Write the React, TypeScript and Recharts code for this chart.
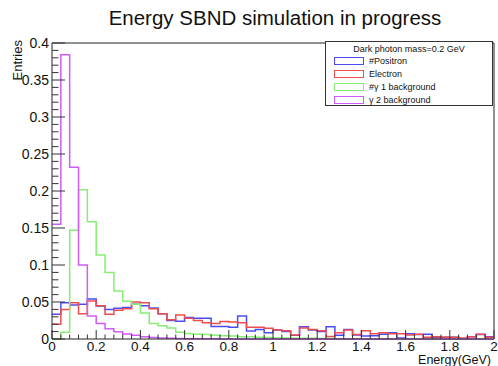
import { ComposedChart, Line, XAxis, YAxis, ReferenceLine, Legend } from 'recharts';

// 50 bins of 0.04 GeV between 0 and 2 GeV, normalised entries per bin
const binWidth = 0.04;

const positron = [
  0.0335, 0.049, 0.046, 0.047, 0.054, 0.0447, 0.04, 0.0416, 0.0425, 0.047,
  0.045, 0.042, 0.034, 0.025, 0.024, 0.029, 0.028, 0.028, 0.017, 0.017,
  0.016, 0.031, 0.0108, 0.013, 0.0086, 0.012, 0.01, 0.005, 0.0165, 0.012,
  0.01, 0.0165, 0.005, 0.013, 0.0054, 0.004, 0.0045, 0.0063, 0.0086, 0.0015,
  0.0072, 0.006, 0.0063, 0.0025, 0.0025, 0.0025, 0.0005, 0.003, 0.006, 0.003,
];

const electron = [
  0.02, 0.04, 0.049, 0.034, 0.0515, 0.045, 0.0335, 0.039, 0.041, 0.05,
  0.049, 0.041, 0.034, 0.026, 0.0325, 0.028, 0.025, 0.022, 0.021, 0.0235,
  0.023, 0.022, 0.016, 0.016, 0.0145, 0.012, 0.011, 0.0055, 0.015, 0.013,
  0.011, 0.0035, 0.0086, 0.012, 0.006, 0.011, 0.0072, 0.0086, 0.0072, 0.0072,
  0.0055, 0.0063, 0.0025, 0.003, 0.0025, 0.0025, 0.0015, 0.003, 0.0063, 0.0025,
];

const gamma1 = [
  0, 0.009, 0.147, 0.2016, 0.1586, 0.1134, 0.09, 0.065, 0.051, 0.047,
  0.035, 0.021, 0.018, 0.015, 0.009, 0.0075, 0.0065, 0.006, 0.005, 0.0045,
  0.004, 0.003, 0.003, 0.0025, 0.002, 0.0015, 0.0015, 0.001, 0.001, 0.001,
  0.0008, 0.0006, 0.0005, 0.0005, 0.0004, 0.0004, 0.0003, 0.0003, 0.0002, 0.0002,
  0.0002, 0.0001, 0.0001, 0.0001, 0, 0, 0, 0, 0, 0,
];

const gamma2 = [
  0.155, 0.384, 0.232, 0.1, 0.031, 0.021, 0.014, 0.0098, 0.0066, 0.005,
  0.003, 0.002, 0.0015, 0.001, 0.0008, 0.0005, 0.0004, 0.0003, 0.0002, 0.0001,
  0, 0, 0, 0, 0, 0, 0, 0, 0, 0,
  0, 0, 0, 0, 0, 0, 0, 0, 0, 0,
  0, 0, 0, 0, 0, 0, 0, 0, 0, 0,
];

const seriesKeys = ['positron', 'electron', 'gamma1', 'gamma2'];
const seriesNames = ['#Positron', 'Electron', '#\u03b3 1 background', '\u03b3 2 background'];
const seriesColors = ['#4b4bf5', '#ee4d4d', '#86ee74', '#cf5cf8'];

const xMajorTicks = [0, 0.2, 0.4, 0.6, 0.8, 1, 1.2, 1.4, 1.6, 1.8, 2];
const yMajorTicks = [0, 0.05, 0.1, 0.15, 0.2, 0.25, 0.3, 0.35, 0.4];

// step points at every bin's low edge, plus the upper edge of the last bin
const rows = positron.map((_, i) => ({
  x: +(i * binWidth).toFixed(2),
  positron: positron[i],
  electron: electron[i],
  gamma1: gamma1[i],
  gamma2: gamma2[i],
}));
rows.push({ ...rows[rows.length - 1], x: 2 });

const xTicks = rows.map((r) => r.x);
const yTicks = Array.from({ length: 41 }, (_, i) => +(i * 0.01).toFixed(2));

const font = '"Liberation Sans", Arial, Helvetica, sans-serif';
const tickColor = '#333';

function XTick({ x, y, payload }: any) {
  const v = payload.value;
  const major = xMajorTicks.includes(v);
  return (
    <g>
      <line x1={x} x2={x} y1={y} y2={y - (major ? 9 : 4.5)} stroke={tickColor} strokeWidth={1} />
      {major && (
        <text x={x} y={y + 12} textAnchor="middle" fontSize={13.5} fontFamily={font} fill="#111">
          {String(v)}
        </text>
      )}
    </g>
  );
}

function YTick({ x, y, payload }: any) {
  const v = payload.value;
  const major = yMajorTicks.includes(v);
  return (
    <g>
      <line x1={x} x2={x + (major ? 13 : 6.5)} y1={y} y2={y} stroke={tickColor} strokeWidth={1} />
      {major && (
        <text x={x - 3} y={y + 5} textAnchor="end" fontSize={14} fontFamily={font} fill="#111">
          {String(v)}
        </text>
      )}
    </g>
  );
}

function HistLegend() {
  return (
    <div
      style={{
        width: 168,
        height: 65,
        border: '1px solid #333',
        background: '#fff',
        fontFamily: font,
        fontSize: 9,
        color: '#111',
        boxSizing: 'border-box',
        position: 'relative',
      }}
    >
      <div style={{ position: 'absolute', left: 0, right: 0, top: 2, textAlign: 'center' }}>
        Dark photon mass=0.2 GeV
      </div>
      {seriesNames.map((name, i) => (
        <div key={name} style={{ position: 'absolute', left: 8, top: 14 + i * 13, height: 10, display: 'flex', alignItems: 'center' }}>
          <span
            style={{
              display: 'inline-block',
              width: 30,
              height: 8,
              border: `1.5px solid ${seriesColors[i]}`,
              boxSizing: 'border-box',
              marginRight: 5,
            }}
          />
          <span>{name}</span>
        </div>
      ))}
    </div>
  );
}

export default function App() {
  return (
    <div style={{ position: 'absolute', left: 0, top: 0, width: 498, height: 366, background: '#fff' }}>
      <ComposedChart width={498} height={366} data={rows} margin={{ top: 43, right: 4, bottom: 7, left: 12 }}>
        <text x={275} y={25} textAnchor="middle" fontSize={20.5} fontFamily={font} fill="#111">
          Energy SBND simulation in progress
        </text>
        <text transform="translate(22, 40) rotate(-90)" textAnchor="end" fontSize={13} fontFamily={font} fill="#111">
          Entries
        </text>
        <text x={491} y={364} textAnchor="end" fontSize={12.5} fontFamily={font} fill="#111">
          Energy(GeV)
        </text>
        <XAxis
          dataKey="x"
          type="number"
          domain={[0, 2]}
          ticks={xTicks}
          interval={0}
          height={20}
          tickSize={0}
          tickMargin={0}
          tickLine={false}
          axisLine={{ stroke: '#222' }}
          tick={<XTick />}
        />
        <YAxis
          type="number"
          domain={[0, 0.4]}
          ticks={yTicks}
          interval={0}
          width={40}
          tickSize={0}
          tickMargin={0}
          tickLine={false}
          axisLine={{ stroke: '#222' }}
          tick={<YTick />}
        />
        <ReferenceLine x={2} stroke="#222" />
        <ReferenceLine y={0.4} stroke="#222" />
        {seriesKeys.map((key, i) => (
          <Line
            key={key}
            dataKey={key}
            name={seriesNames[i]}
            type="stepAfter"
            stroke={seriesColors[i]}
            strokeWidth={1.5}
            dot={false}
            activeDot={false}
            isAnimationActive={false}
          />
        ))}
        <Legend
          layout="horizontal"
          verticalAlign="middle"
          align="center"
          content={<HistLegend />}
          wrapperStyle={{ left: 325, top: 41, width: 168, height: 65 }}
        />
      </ComposedChart>
    </div>
  );
}
